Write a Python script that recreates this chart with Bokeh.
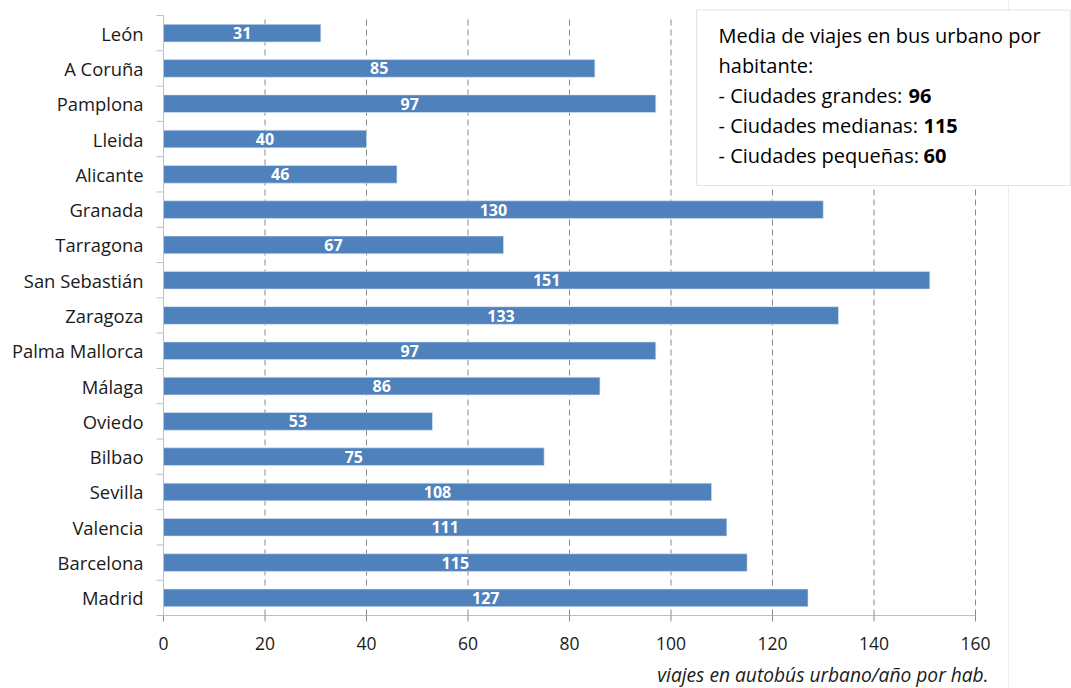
from bokeh.plotting import figure
from bokeh.models import Range1d, BoxAnnotation, Span, ColumnDataSource
from bokeh.core.properties import value
from bokeh.embed import file_html
from bokeh.resources import INLINE

# Urban bus trips per inhabitant and year, by city (top to bottom)
cities = ["León", "A Coruña", "Pamplona", "Lleida", "Alicante", "Granada",
          "Tarragona", "San Sebastián", "Zaragoza", "Palma Mallorca", "Málaga",
          "Oviedo", "Bilbao", "Sevilla", "Valencia", "Barcelona", "Madrid"]
trips = [31, 85, 97, 40, 46, 130, 67, 151, 133, 97, 86, 53, 75, 108, 111, 115, 127]
x_ticks = [0, 20, 40, 60, 80, 100, 120, 140, 160]
x_title = "viajes en autobús urbano/año por hab."

# Averages by city size, shown in the note box
note_title = ["Media de viajes en bus urbano por", "habitante:"]
group_labels = ["- Ciudades grandes:", "- Ciudades medianas:", "- Ciudades pequeñas:"]
group_means = [96, 115, 60]

FONT = "Open Sans"
BAR = "#4F81BD"
AXIS_GREY = "#bfbfbf"
TEXT = "#1a1a1a"
W, H = 1071, 688
LEFT, TOP_PAD = 163, 15      # pixel position of the value 0 / first band edge
X_PX = 812 / 160.0           # pixels per unit on the value axis
N = len(cities)
Y_PX = 600.0 / N             # pixels per category band

ypos = [N - 1 - i for i in range(N)]
edges = [k - 0.5 for k in range(N + 1)]
y_end = (N - 0.5) + TOP_PAD / Y_PX


def fx(px):
    return (px - LEFT) / X_PX


def fy(py):
    return y_end - py / Y_PX


# the frame covers the whole canvas; both axes are drawn as glyphs
p = figure(width=W, height=H, output_backend="svg", toolbar_location=None,
           x_range=Range1d(fx(0), fx(W)), y_range=Range1d(fy(H), fy(0)),
           x_axis_location=None, y_axis_location=None,
           min_border_left=0, min_border_right=0, min_border_top=0,
           min_border_bottom=0)
p.outline_line_color = None
p.background_fill_color = "white"
p.border_fill_color = "white"
p.xgrid.visible = False
p.ygrid.visible = False

# faint chart-area edge
p.add_layout(Span(location=fx(1008), dimension="height", line_color="#ececec",
                  line_width=1, level="underlay"))

# dashed vertical gridlines over the category span
grid_x = [t for t in x_ticks if t > 0]
p.segment(x0=grid_x, x1=grid_x, y0=[edges[0]] * len(grid_x), y1=[edges[-1]] * len(grid_x),
          line_color="#8a8a8a", line_width=1, line_dash="6 4", level="underlay")

# note box (drawn over the gridlines, under the texts)
p.add_layout(BoxAnnotation(left=fx(696), right=fx(1070), top=fy(9.5), bottom=fy(185),
                           fill_color="white", fill_alpha=1, line_color="#a6a6a6",
                           line_width=1.2, level="underlay"))

src = ColumnDataSource(dict(city=cities, trips=trips, y=ypos,
                            mid=[v / 2.0 for v in trips],
                            lab=[str(v) for v in trips]))
p.hbar(y="y", left=0, right="trips", height=0.5, source=src,
       fill_color=BAR, line_color="#dce6f2", line_width=0.6)
p.text(x="mid", y="y", text="lab", source=src, text_align="center",
       text_baseline="middle", text_color="white", text_font=value(FONT),
       text_font_style="bold", text_font_size="16px")

# value axis: rule, outward ticks, tick labels and title
p.segment(x0=[x_ticks[0]], x1=[x_ticks[-1]], y0=[edges[0]], y1=[edges[0]],
          line_color=AXIS_GREY, line_width=1)
nt = len(x_ticks)
p.segment(x0=x_ticks, x1=x_ticks, y0=[edges[0]] * nt, y1=[fy(621)] * nt,
          line_color="#8a8a8a", line_width=1)
p.text(x=x_ticks, y=[fy(643)] * nt, text=[str(t) for t in x_ticks],
       text_align="center", text_baseline="middle", text_font=value(FONT),
       text_font_size="17.5px", text_color=TEXT)
p.text(x=[fx(988)], y=[fy(674)], text=[x_title], text_align="right",
       text_baseline="middle", text_font=value(FONT), text_font_style="italic",
       text_font_size="19.2px", text_color=TEXT)

# category axis: rule, tick marks at band edges, names at band centres
p.segment(x0=[0], x1=[0], y0=[edges[0]], y1=[edges[-1]],
          line_color=AXIS_GREY, line_width=1)
ne = len(edges)
p.segment(x0=[0] * ne, x1=[fx(156)] * ne, y0=edges, y1=edges,
          line_color=AXIS_GREY, line_width=1)
p.text(x=[fx(143)] * N, y=ypos, text=cities, text_align="right",
       text_baseline="middle", text_font=value(FONT), text_font_size="18.4px",
       text_color=TEXT)

# note texts
lines_y = [fy(35 + 30 * k) for k in range(5)]
tx = fx(718)
p.text(x=[tx, tx], y=lines_y[:2], text=note_title, text_font=value(FONT),
       text_font_size="20px", text_color="#000000", text_baseline="alphabetic")
p.text(x=[tx] * 3, y=lines_y[2:], text=group_labels, text_font=value(FONT),
       text_font_size="20px", text_color="#000000", text_baseline="alphabetic")
bold_x = [fx(908), fx(923), fx(923)]
p.text(x=bold_x, y=lines_y[2:], text=[str(v) for v in group_means],
       text_font=value(FONT), text_font_style="bold", text_font_size="20px",
       text_color="#000000", text_baseline="alphabetic")

open("out.html", "w").write(file_html(p, INLINE))
